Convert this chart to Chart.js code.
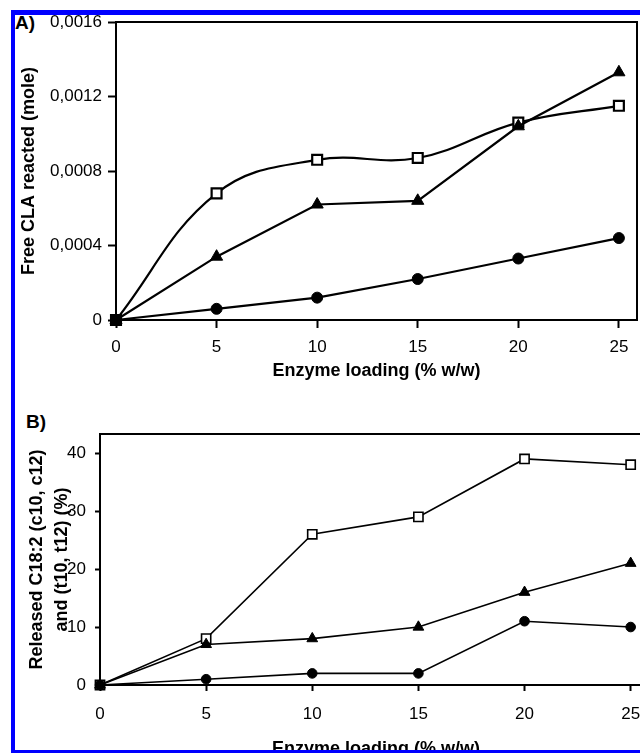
<!DOCTYPE html>
<html>
<head>
<meta charset="utf-8">
<script src="https://cdn.jsdelivr.net/npm/chart.js@4.4.0/dist/chart.umd.min.js"></script>
<style>
  html, body { margin: 0; padding: 0; background: #fff; width: 640px; height: 753px; overflow: hidden; }
  canvas { position: absolute; left: 0; }
  #chartA { top: 0; }
  #chartB { top: 400px; }
  .panel-label { position: absolute; font: bold 19px "Liberation Sans", Arial, sans-serif; line-height: 19px; }
  #frame { position: absolute; left: 11px; top: 10px; width: 720px; height: 744px; box-sizing: border-box;
           border: 4px solid #0000ff; border-top-width: 5px; pointer-events: none; }
</style>
</head>
<body>
<div class="panel-label" style="left:15px; top:13px;">A)</div>
<div class="panel-label" style="left:26px; top:412px;">B)</div>
<canvas id="chartA" width="647" height="400"></canvas>
<canvas id="chartB" width="660" height="370"></canvas>
<div id="frame"></div>
<script>
const loading = [0, 5, 10, 15, 20, 25];
const xTicks = [0, 5, 10, 15, 20, 25];
const xTickLabels = ['0', '5', '10', '15', '20', '25'];

// A) free CLA reacted (mole)
const circlesA = [0, 0.00006, 0.00012, 0.00022, 0.00033, 0.00044];
const trianglesA = [0, 0.00034, 0.00062, 0.00064, 0.00104, 0.00133];
const squaresA = [0, 0.00068, 0.00086, 0.00087, 0.00106, 0.00115];
const yTicksA = [0, 0.0004, 0.0008, 0.0012, 0.0016];
const yTickLabelsA = ['0', '0,0004', '0,0008', '0,0012', '0,0016'];

// B) released C18:2 (%)
const circlesB = [0, 1, 2, 2, 11, 10];
const trianglesB = [0, 7, 8, 10, 16, 21];
const squaresB = [0, 8, 26, 29, 39, 38];
const yTicksB = [0, 10, 20, 30, 40];
const yTickLabelsB = ['0', '10', '20', '30', '40'];

Chart.defaults.font.family = '"Liberation Sans", Arial, sans-serif';
Chart.defaults.color = '#000';

const frame = {
  id: 'frame',
  beforeDatasetsDraw(chart) {
    const { ctx, chartArea: a } = chart;
    ctx.save();
    ctx.strokeStyle = '#000';
    ctx.lineWidth = 2;
    ctx.strokeRect(a.left, a.top, a.right - a.left, a.bottom - a.top);
    ctx.restore();
  },
};

function series(ys, style, lw, r, tension) {
  return {
    data: loading.map((x, i) => ({ x, y: ys[i] })),
    pointStyle: style,
    pointRadius: r,
    pointBackgroundColor: style === 'rect' ? '#fff' : '#000',
    pointBorderColor: '#000',
    pointBorderWidth: style === 'rect' ? lw : 1,
    borderColor: '#000',
    borderWidth: lw,
    tension: tension || 0,
    clip: false,
  };
}

function axisGrid(tl) {
  return { drawOnChartArea: false, drawTicks: true, tickLength: tl, tickWidth: 2, color: '#000', tickColor: '#000' };
}

const titleFont = { size: 18, weight: 'bold' };

new Chart(document.getElementById('chartA'), {
  type: 'line',
  data: {
    datasets: [
      series(circlesA, 'circle', 2.2, 5.5),
      series(trianglesA, 'triangle', 2.2, 7),
      series(squaresA, 'rect', 2.2, 7, 0.4),
    ],
  },
  options: {
    responsive: false,
    animation: false,
    events: [],
    layout: { padding: { left: 0, top: 22, right: 10, bottom: 18 } },
    plugins: { legend: { display: false }, tooltip: { enabled: false } },
    scales: {
      x: {
        type: 'linear', min: 0, max: 25.9,
        afterBuildTicks: s => { s.ticks = xTicks.map(v => ({ value: v })); },
        afterFit: s => { s.height = 62; },
        grid: axisGrid(8),
        border: { color: '#000', width: 2 },
        ticks: { font: { size: 17 }, padding: 9, autoSkip: false, maxRotation: 0, callback: (v, i) => xTickLabels[i] },
        title: { display: true, text: 'Enzyme loading (% w/w)', font: titleFont, padding: { top: 0, bottom: 0 } },
      },
      y: {
        type: 'linear', min: 0, max: 0.0016,
        afterBuildTicks: s => { s.ticks = yTicksA.map(v => ({ value: v })); },
        afterFit: s => { s.width = 116; },
        grid: axisGrid(8),
        border: { color: '#000', width: 2 },
        ticks: { font: { size: 17 }, padding: 6, autoSkip: false, callback: (v, i) => yTickLabelsA[i] },
        title: { display: true, text: 'Free CLA reacted (mole)', font: titleFont, padding: { top: 18, bottom: 0 } },
      },
    },
  },
  plugins: [frame],
});

new Chart(document.getElementById('chartB'), {
  type: 'line',
  data: {
    datasets: [
      series(circlesB, 'circle', 1.6, 4.8),
      series(trianglesB, 'triangle', 1.6, 6.2),
      series(squaresB, 'rect', 1.6, 6.5),
    ],
  },
  options: {
    responsive: false,
    animation: false,
    events: [],
    layout: { padding: { left: 0, top: 34, right: 8, bottom: 10 } },
    plugins: { legend: { display: false }, tooltip: { enabled: false } },
    scales: {
      x: {
        type: 'linear', min: 0, max: 26,
        afterBuildTicks: s => { s.ticks = xTicks.map(v => ({ value: v })); },
        afterFit: s => { s.height = 75; },
        grid: axisGrid(6),
        border: { color: '#000', width: 2 },
        ticks: { font: { size: 17 }, padding: 13, autoSkip: false, maxRotation: 0, callback: (v, i) => xTickLabels[i] },
        title: { display: true, text: 'Enzyme loading (% w/w)', font: titleFont, padding: { top: 0, bottom: 0 } },
      },
      y: {
        type: 'linear', min: 0, max: 43.3,
        afterBuildTicks: s => { s.ticks = yTicksB.map(v => ({ value: v })); },
        afterFit: s => { s.width = 100; },
        grid: axisGrid(5),
        border: { color: '#000', width: 2 },
        ticks: { font: { size: 17 }, padding: 9, autoSkip: false, callback: (v, i) => yTickLabelsB[i] },
        title: {
          display: true,
          text: ['Released C18:2 (c10, c12)', 'and (t10, t12) (%)'],
          font: { size: 18, weight: 'bold', lineHeight: 25 / 18 },
          padding: { top: 25, bottom: 0 },
        },
      },
    },
  },
  plugins: [frame],
});
</script>
</body>
</html>
